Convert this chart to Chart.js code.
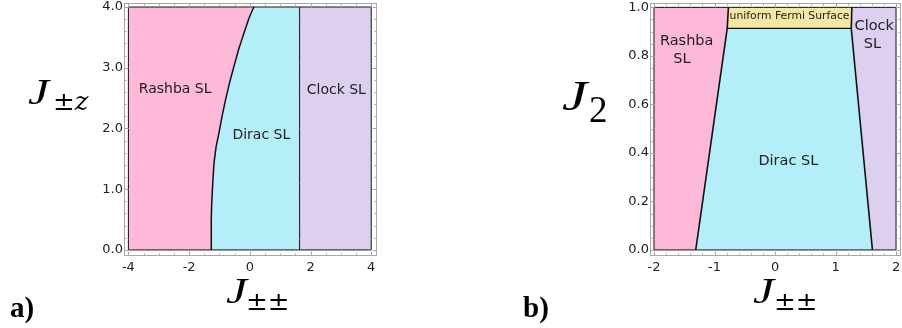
<!DOCTYPE html>
<html>
<head>
<meta charset="utf-8">
<script src="https://cdn.jsdelivr.net/npm/chart.js@4.4.1/dist/chart.umd.min.js"></script>
<style>
  body { margin: 0; background: #fff; }
  #wrap { position: relative; width: 902px; height: 328px; overflow: hidden; }
  #wrap canvas { position: absolute; top: 0; }
  .tex { position: absolute; line-height: 1; white-space: nowrap; color: #000; }
  .it { font-family: "Liberation Serif", serif; font-style: italic; transform-origin: 0 0; transform: scaleX(1.35); }
  .sub { font-family: "DejaVu Serif", serif; }
  .tag { font-family: "Liberation Serif", serif; font-weight: bold; font-size: 29px; }
</style>
</head>
<body>
<div id="wrap">
  <canvas id="panelA" width="451" height="328" style="left:0"></canvas>
  <canvas id="panelB" width="451" height="328" style="left:451px"></canvas>

  <span class="tex it" style="left:28px;top:75px;font-size:35px">J</span>
  <span class="tex sub" style="left:53px;top:88px;font-size:26px">±<i>z</i></span>

  <span class="tex it" style="left:226px;top:274px;font-size:35px">J</span>
  <span class="tex sub" style="left:246px;top:288px;font-size:26px">±±</span>

  <span class="tex it" style="left:562px;top:75px;font-size:42px">J</span>
  <span class="tex" style="left:589px;top:91px;font-size:37px;font-family:'Liberation Serif',serif">2</span>

  <span class="tex it" style="left:753px;top:274px;font-size:35px">J</span>
  <span class="tex sub" style="left:774px;top:288px;font-size:26px">±±</span>

  <span class="tex tag" style="left:10px;top:293px">a)</span>
  <span class="tex tag" style="left:523px;top:293px">b)</span>
</div>

<script>
// ---- panel a) : J_{+-z} vs J_{++} ----
const aXRange = [-4, 4];
const aYRange = [0, 4];
const aXTicks = [-4, -2, 0, 2, 4];
const aYTicks = [0, 1, 2, 3, 4];
// Rashba / Dirac boundary (x at each y)
const aBoundaryY = [0, 0.49, 0.70, 0.88, 1.15, 1.43, 1.70, 1.92, 2.20, 2.47, 2.75, 3.01, 3.30, 3.56, 3.80, 4.0];
const aBoundaryX = [-1.27, -1.27, -1.26, -1.245, -1.215, -1.18, -1.11, -1.02, -0.915, -0.80, -0.67, -0.53, -0.37, -0.20, -0.04, 0.13];
// Dirac / Clock boundary (vertical)
const aClockX = 1.64;

// ---- panel b) : J_2 vs J_{++} ----
const bXRange = [-2, 2];
const bYRange = [0, 1];
const bXTicks = [-2, -1, 0, 1, 2];
const bYTicks = [0, 0.2, 0.4, 0.6, 0.8, 1.0];
// Rashba / Dirac boundary: bottom point, kink where the Fermi surface starts, top
const bRashbaX = [-1.31, -0.79, -0.77];
const bRashbaY = [0, 0.913, 1.0];
// Dirac / Clock boundary
const bClockX = [1.61, 1.26, 1.27];
const bClockY = [0, 0.913, 1.0];

const colors = {
  rashba: "#ffb9d8",
  dirac: "#b4eef9",
  clock: "#dccff0",
  fermi: "#f5e6a2",
  line: "#111111",
  frame: "#a8a8a8",
  text: "#222222",
};

const pts = (xs, ys) => xs.map((x, i) => ({ x, y: ys[i] }));

// a tiny tension keeps Chart.js off its x-monotonic "fast path",
// which would mangle near-vertical boundaries
const TENSION = 1e-4;

function region(points, color) {
  return {
    data: points.concat([points[0]]),
    showLine: true,
    fill: "shape",
    backgroundColor: color,
    borderColor: "rgba(0,0,0,0)",
    borderWidth: 0,
    pointRadius: 0,
    tension: TENSION,
  };
}

function edge(points, width) {
  return {
    data: points,
    showLine: true,
    fill: false,
    borderColor: colors.line,
    borderWidth: width,
    pointRadius: 0,
    tension: TENSION,
  };
}

// frame + inward Mathematica-style ticks on all sides
const framePlugin = {
  id: "frameTicks",
  afterDraw(chart, args, opts) {
    const { ctx, chartArea: a, scales } = chart;
    ctx.save();
    ctx.strokeStyle = colors.frame;
    ctx.lineWidth = 1;
    ctx.strokeRect(a.left + 0.5, a.top + 0.5, a.right - a.left - 1, a.bottom - a.top - 1);
    const tick = (axis, v, len) => {
      const p = Math.round(scales[axis].getPixelForValue(v)) + 0.5;
      ctx.beginPath();
      if (axis === "x") {
        ctx.moveTo(p, a.bottom); ctx.lineTo(p, a.bottom - len);
        ctx.moveTo(p, a.top); ctx.lineTo(p, a.top + len);
      } else {
        ctx.moveTo(a.left, p); ctx.lineTo(a.left + len, p);
        ctx.moveTo(a.right, p); ctx.lineTo(a.right - len, p);
      }
      ctx.stroke();
    };
    ["x", "y"].forEach((axis) => {
      const s = scales[axis];
      const step = opts[axis + "Minor"];
      for (let v = Math.ceil(s.min / step) * step; v <= s.max + 1e-9; v += step) tick(axis, v, 2.5);
      opts[axis + "Major"].forEach((v) => tick(axis, v, 4.5));
    });
    ctx.restore();
  },
};

// region names, placed in data coordinates
const labelPlugin = {
  id: "regionLabels",
  afterDatasetsDraw(chart, args, opts) {
    const { ctx, scales } = chart;
    ctx.save();
    ctx.fillStyle = colors.text;
    ctx.textAlign = "center";
    ctx.textBaseline = "middle";
    opts.items.forEach((it) => {
      ctx.font = `${it.size}px "DejaVu Sans"`;
      ctx.fillText(it.text, scales.x.getPixelForValue(it.x), scales.y.getPixelForValue(it.y));
    });
    ctx.restore();
  },
};

function makePanel(id, cfg) {
  return new Chart(document.getElementById(id), {
    type: "scatter",
    data: { datasets: cfg.datasets },
    options: {
      responsive: false,
      animation: false,
      events: [],
      layout: { padding: cfg.padding },
      scales: {
        x: {
          type: "linear",
          min: cfg.xMin,
          max: cfg.xMax,
          afterBuildTicks: (s) => { s.ticks = cfg.xTicks.map((v) => ({ value: v })); },
          afterFit: (s) => { s.height = cfg.xHeight; s.paddingLeft = 0; s.paddingRight = 0; },
          grid: { display: false, drawTicks: false },
          border: { display: false },
          ticks: {
            padding: 4,
            color: colors.text,
            font: { family: "DejaVu Sans", size: 13 },
            maxRotation: 0,
            callback: (v) => String(v),
          },
        },
        y: {
          type: "linear",
          min: cfg.yMin,
          max: cfg.yMax,
          afterBuildTicks: (s) => { s.ticks = cfg.yTicks.map((v) => ({ value: v })); },
          afterFit: (s) => { s.width = cfg.yWidth; s.paddingTop = 0; s.paddingBottom = 0; },
          grid: { display: false, drawTicks: false },
          border: { display: false },
          ticks: {
            padding: 1,
            color: colors.text,
            font: { family: "DejaVu Sans", size: 13 },
            callback: (v) => Number(v).toFixed(1),
          },
        },
      },
      plugins: {
        legend: { display: false },
        tooltip: { enabled: false },
        frameTicks: cfg.frame,
        regionLabels: { items: cfg.labels },
      },
    },
    plugins: [framePlugin, labelPlugin],
  });
}

// ---------- panel a ----------
const aCurve = pts(aBoundaryX, aBoundaryY);
const [ax0, ax1] = aXRange;
const [ay0, ay1] = aYRange;
makePanel("panelA", {
  padding: { left: 0, top: 3, right: 74, bottom: 0 },
  xHeight: 72,
  yWidth: 124,
  xMin: ax0 - 0.145, xMax: ax1 + 0.19,
  yMin: ay0 - 0.1, yMax: ay1 + 0.066,
  xTicks: aXTicks,
  yTicks: aYTicks,
  frame: { xMinor: 0.5, yMinor: 0.2, xMajor: aXTicks, yMajor: aYTicks },
  labels: [
    { text: "Rashba SL", x: -2.46, y: 2.65, size: 14 },
    { text: "Dirac SL", x: 0.38, y: 1.88, size: 14 },
    { text: "Clock SL", x: 2.85, y: 2.63, size: 14 },
  ],
  datasets: [
    edge(aCurve, 1.5),
    edge([{ x: aClockX, y: ay0 }, { x: aClockX, y: ay1 }], 1),
    edge([{ x: ax0, y: ay0 }, { x: ax1, y: ay0 }, { x: ax1, y: ay1 }, { x: ax0, y: ay1 }, { x: ax0, y: ay0 }], 1),
    region([{ x: ax0, y: ay0 }].concat(aCurve, [{ x: ax0, y: ay1 }]), colors.rashba),
    region(aCurve.concat([{ x: aClockX, y: ay1 }, { x: aClockX, y: ay0 }]), colors.dirac),
    region([{ x: aClockX, y: ay0 }, { x: ax1, y: ay0 }, { x: ax1, y: ay1 }, { x: aClockX, y: ay1 }], colors.clock),
  ],
});

// ---------- panel b ----------
const bLeft = pts(bRashbaX, bRashbaY);
const bRight = pts(bClockX, bClockY);
const [bx0, bx1] = bXRange;
const [by0, by1] = bYRange;
makePanel("panelB", {
  padding: { left: 0, top: 3, right: 1, bottom: 0 },
  xHeight: 72,
  yWidth: 199,
  xMin: bx0 - 0.066, xMax: bx1 + 0.082,
  yMin: by0 - 0.025, yMax: by1 + 0.018,
  xTicks: bXTicks,
  yTicks: bYTicks,
  frame: { xMinor: 0.2, yMinor: 0.05, xMajor: bXTicks, yMajor: bYTicks },
  labels: [
    { text: "Rashba", x: -1.46, y: 0.861, size: 14.5 },
    { text: "SL", x: -1.54, y: 0.787, size: 14.5 },
    { text: "Dirac SL", x: 0.22, y: 0.367, size: 14.5 },
    { text: "Clock", x: 1.64, y: 0.923, size: 14.5 },
    { text: "SL", x: 1.61, y: 0.846, size: 14.5 },
    { text: "uniform Fermi Surface", x: 0.24, y: 0.964, size: 10.8 },
  ],
  datasets: [
    edge(bLeft, 1.6),
    edge(bRight, 1.6),
    edge([bLeft[1], bRight[1]], 1.2),
    edge([{ x: bx0, y: by0 }, { x: bx1, y: by0 }, { x: bx1, y: by1 }, { x: bx0, y: by1 }, { x: bx0, y: by0 }], 1),
    region([{ x: bx0, y: by0 }].concat(bLeft, [{ x: bx0, y: by1 }]), colors.rashba),
    region(bLeft.slice(0, 2).concat([bRight[1], bRight[0]]), colors.dirac),
    region(bLeft.slice(1).concat([bRight[2], bRight[1]]), colors.fermi),
    region([bRight[0], { x: bx1, y: by0 }, { x: bx1, y: by1 }].concat([bRight[2], bRight[1]]), colors.clock),
  ],
});
</script>
</body>
</html>
